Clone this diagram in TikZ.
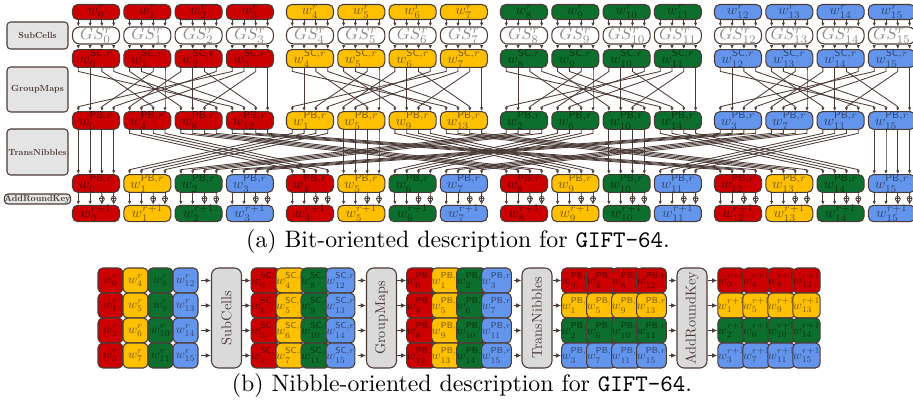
\documentclass[tikz,border=0pt]{standalone}
\usepackage{tikz}
\usepackage{xcolor}
\usepackage{graphicx}
\usepackage{amsmath,amsfonts,amssymb}
\usetikzlibrary{arrows.meta,calc}

\definecolor{nibred}{HTML}{CC0000}
\definecolor{nibyel}{HTML}{FFC000}
\definecolor{nibgrn}{HTML}{0C6F2E}
\definecolor{nibblu}{HTML}{6495ED}
\definecolor{edgec}{HTML}{4B3B36}
\definecolor{labfill}{HTML}{E4E4E4}
\definecolor{boxfill}{HTML}{DADADA}

\def\pxu{0.42pt}
\newcommand{\nibtxt}[1]{\scalebox{0.6}{$#1$}}
\newcommand{\gstxt}[1]{\scalebox{0.7}{$#1$}}
\newcommand{\labtxt}[1]{\scalebox{0.37}{\bfseries #1}}
\newcommand{\celltxt}[1]{\scalebox{0.52}{$#1$}}
\newcommand{\optxt}[1]{\rotatebox{90}{\scalebox{0.6}{#1}}}

\tikzset{
  nib/.style={draw=edgec, fill=#1, text=#1!45!black, line width=0.45pt,
    rounded corners=2.2pt, minimum width=47*\pxu, minimum height=15*\pxu,
    inner sep=0pt},
  gsbox/.style={draw=edgec, fill=white, text=black!45, line width=0.45pt,
    rounded corners=3pt, minimum width=47*\pxu, minimum height=17*\pxu,
    inner sep=0pt},
  lab/.style={draw=edgec, fill=labfill, text=edgec, line width=0.45pt,
    rounded corners=1.5pt, minimum width=61*\pxu, inner sep=0pt},
  cell/.style={draw=edgec, fill=#1, text=#1!45!black, line width=0.45pt,
    rounded corners=2pt, minimum size=25*\pxu, inner sep=0pt},
  opbox/.style={draw=edgec, fill=boxfill, text=edgec, line width=0.45pt,
    rounded corners=3pt, minimum width=30*\pxu, minimum height=100*\pxu,
    inner sep=0pt},
  bitar/.style={draw=edgec, line width=0.35pt, -{Latex[length=1.6pt,width=1.4pt]}},
  opar/.style={draw=edgec, line width=0.45pt, -{Latex[length=2.2pt,width=2pt]}},
  xorc/.style={circle, draw=edgec, fill=white, line width=0.3pt, inner sep=0pt,
    minimum size=5*\pxu, path picture={
      \draw[edgec, line width=0.3pt] (path picture bounding box.north) -- (path picture bounding box.south)
        (path picture bounding box.west) -- (path picture bounding box.east);}}
}

\begin{document}
\begin{tikzpicture}[x=0.42pt, y=-0.42pt]
\useasboundingbox (0,0) rectangle (913,406);

% (a) bit-oriented
\node[lab, minimum height=27*\pxu] (lsub) at (37.5,35.5) {\labtxt{SubCells}};
\node[lab, minimum height=45*\pxu] (lgrp) at (37.5,89.5) {\labtxt{GroupMaps}};
\node[lab, minimum height=46*\pxu] (ltrn) at (37.5,152) {\labtxt{TransNibbles}};
\node[lab, minimum height=10*\pxu] (lark) at (37.5,199) {\labtxt{AddRoundKey}};

\foreach \g/\cc in {0/nibred,1/nibyel,2/nibgrn,3/nibblu}{
  \foreach \j in {0,...,3}{
    \pgfmathtruncatemacro\i{4*\g+\j}
    \pgfmathsetmacro\xx{96+214*\g+51.3*\j}
    \pgfmathtruncatemacro\pbl{4*\j+\g}
    \node[nib=\cc] (wr\i) at (\xx,12) {\nibtxt{w_{\i}^{r}}};
    \node[gsbox] (gs\i) at (\xx,35.5) {\gstxt{GS_{\i}^{r}}};
    \node[nib=\cc] (sc\i) at (\xx,58.5) {\nibtxt{w_{\i}^{\textsf{SC},r}}};
    \node[nib=\cc] (pb\i) at (\xx,120.5) {\nibtxt{w_{\pbl}^{\textsf{PB},r}}};
  }
}
\foreach \j/\cc in {0/nibred,1/nibyel,2/nibgrn,3/nibblu}{
  \foreach \g in {0,...,3}{
    \pgfmathtruncatemacro\i{4*\g+\j}
    \pgfmathsetmacro\xx{96+214*\g+51.3*\j}
    \node[nib=\cc] (pt\i) at (\xx,183.5) {\nibtxt{w_{\i}^{\textsf{PB},r}}};
    \node[nib=\cc] (wn\i) at (\xx,213.5) {\nibtxt{w_{\i}^{r+1}}};
  }
}

\foreach \i in {0,...,15}{
  \foreach \o in {-17.7,-5.9,5.9,17.7}{
    \draw[bitar] ([xshift=\o*\pxu]wr\i.south) -- ([xshift=\o*\pxu]gs\i.north);
    \draw[bitar] ([xshift=\o*\pxu]gs\i.south) -- ([xshift=\o*\pxu]sc\i.north);
  }
  \foreach \o in {-17.7,-5.9}{
    \draw[bitar] ([xshift=\o*\pxu]pt\i.south) -- ([xshift=\o*\pxu]wn\i.north);
  }
  \foreach \o [count=\n] in {5.9,17.7}{
    \node[xorc] (x\i n\n) at ($([xshift=\o*\pxu]pt\i.south)!0.5!([xshift=\o*\pxu]wn\i.north)$) {};
    \draw[edgec, line width=0.35pt] ([xshift=\o*\pxu]pt\i.south) -- (x\i n\n);
    \draw[bitar] (x\i n\n) -- ([xshift=\o*\pxu]wn\i.north);
  }
}

\foreach \g in {0,...,3}{
  \foreach \q in {0,...,3}{
    \foreach \p/\o in {0/-17.7,1/-5.9,2/5.9,3/17.7}{
      \pgfmathtruncatemacro\src{4*\g+\q}
      \pgfmathtruncatemacro\bt{mod(\p+3,4)}
      \pgfmathtruncatemacro\dst{4*\g+mod(3*\q+\bt,4)}
      \draw[bitar] ([xshift=\o*\pxu]sc\src.south) -- ++(0,3.5)
        -- ($([xshift=\o*\pxu]pb\dst.north)+(0,-4.5)$) -- ([xshift=\o*\pxu]pb\dst.north);
    }
    \pgfmathtruncatemacro\src{4*\g+\q}
    \pgfmathtruncatemacro\dst{4*\q+\g}
    \foreach \o in {-17.7,-5.9,5.9,17.7}{
      \draw[bitar] ([xshift=\o*\pxu]pb\src.south) -- ++(0,3.5)
        -- ($([xshift=\o*\pxu]pt\dst.north)+(0,-4.5)$) -- ([xshift=\o*\pxu]pt\dst.north);
    }
  }
}

\node (capa) at (458,242) {(a) Bit-oriented description for \texttt{GIFT-64}.};

% (b) nibble-oriented
\node[opbox] (bsub) at (226.5,318) {\optxt{SubCells}};
\node[opbox] (bgrp) at (381.5,318) {\optxt{GroupMaps}};
\node[opbox] (btrn) at (537,318) {\optxt{TransNibbles}};
\node[opbox] (bark) at (692,318) {\optxt{AddRoundKey}};

\foreach \c/\cc in {0/nibred,1/nibyel,2/nibgrn,3/nibblu}{
  \foreach \r in {0,...,3}{
    \pgfmathtruncatemacro\i{4*\c+\r}
    \pgfmathtruncatemacro\k{4*\r+\c}
    \node[cell=\cc] (ga\r\c) at (110.5+25*\c,280.5+25*\r) {\celltxt{w_{\i}^{r}}};
    \node[cell=\cc] (gb\r\c) at (265.5+25*\c,280.5+25*\r) {\celltxt{w_{\i}^{\textsf{SC},r}}};
    \node[cell=\cc] (gc\r\c) at (421.5+25*\c,280.5+25*\r) {\celltxt{w_{\k}^{\textsf{PB},r}}};
  }
}
\foreach \r/\cc in {0/nibred,1/nibyel,2/nibgrn,3/nibblu}{
  \foreach \c in {0,...,3}{
    \pgfmathtruncatemacro\i{\r+4*\c}
    \node[cell=\cc] (gd\r\c) at (576.5+25*\c,280.5+25*\r) {\celltxt{w_{\i}^{\textsf{PB},r}}};
    \node[cell=\cc] (ge\r\c) at (731.5+25*\c,280.5+25*\r) {\celltxt{w_{\i}^{r+1}}};
  }
}

\foreach \r in {0,...,3}{
  \draw[opar] ([xshift=1pt]ga\r3.east) -- (ga\r3.east -| bsub.west);
  \draw[opar] (bsub.east |- gb\r0.west) -- (gb\r0.west);
  \draw[opar] ([xshift=1pt]gb\r3.east) -- (gb\r3.east -| bgrp.west);
  \draw[opar] (bgrp.east |- gc\r0.west) -- (gc\r0.west);
  \draw[opar] ([xshift=1pt]gc\r3.east) -- (gc\r3.east -| btrn.west);
  \draw[opar] (btrn.east |- gd\r0.west) -- (gd\r0.west);
  \draw[opar] ([xshift=1pt]gd\r3.east) -- (gd\r3.east -| bark.west);
  \draw[opar] (bark.east |- ge\r0.west) -- (ge\r0.west);
}

\node (capb) at (462,386) {(b) Nibble-oriented description for \texttt{GIFT-64}.};
\end{tikzpicture}
\end{document}
